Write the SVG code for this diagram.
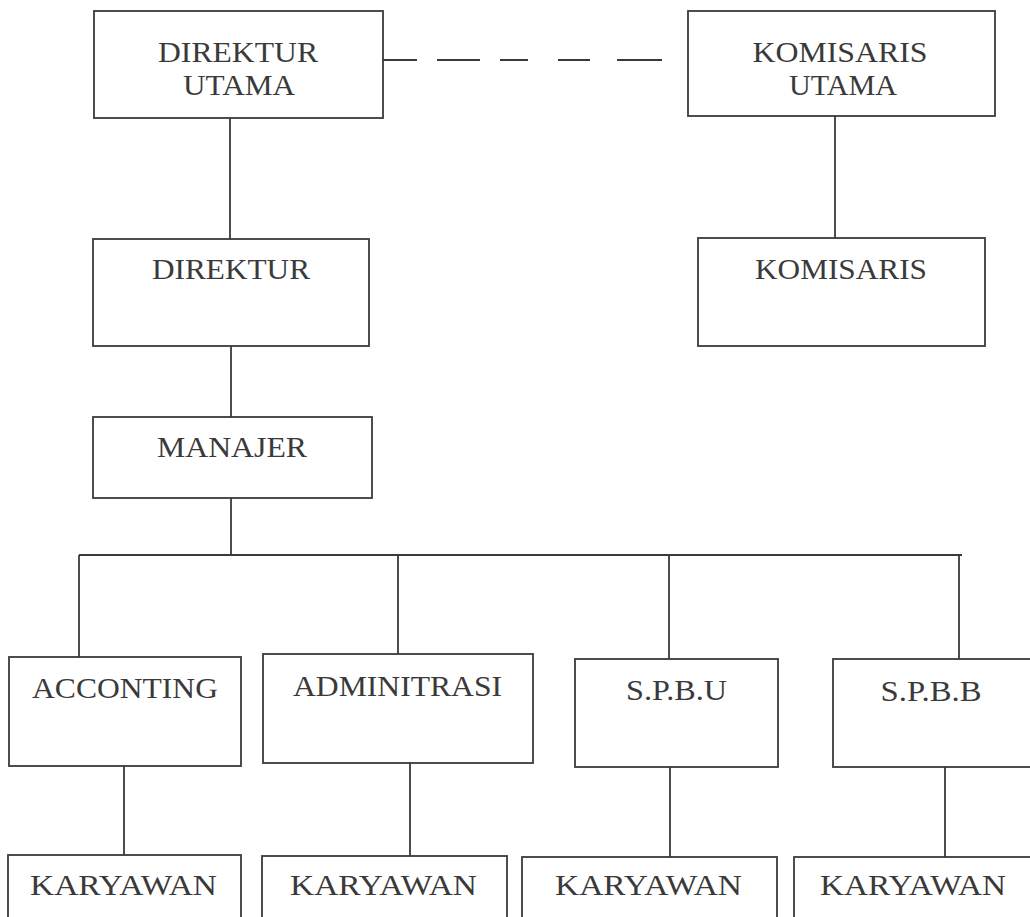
<svg xmlns="http://www.w3.org/2000/svg" width="1030" height="917" viewBox="0 0 1030 917">
<style>
.box{fill:#fff;stroke:#3a3a3a;stroke-width:1.8}
.ln{fill:none;stroke:#3a3a3a;stroke-width:1.8}
text{font-family:"Liberation Serif","Times New Roman",serif;font-size:30px;fill:#3a3a3a;text-anchor:middle}
</style>
<rect width="1030" height="917" fill="#fff"/>
<g id="connectors">
<path class="ln" d="M383 60H417M437 60H480M500 60H528M558 60H590M617 60H662"/>
<path class="ln" d="M230 118V239M231 346V417M231 498V555M79 555H962M79 555V657M398 555V654M669 555V659M959 555V659"/>
<path class="ln" d="M835 116V238"/>
<path class="ln" d="M124 766V855M410 763V856M670 767V857M945 767V857"/>
</g>
<g id="direktur-utama"><rect class="box" x="94" y="11" width="289" height="107"/><text x="238" y="62" textLength="160" lengthAdjust="spacingAndGlyphs">DIREKTUR</text><text x="239" y="95" textLength="112" lengthAdjust="spacingAndGlyphs">UTAMA</text></g>
<g id="komisaris-utama"><rect class="box" x="688" y="11" width="307" height="105"/><text x="840" y="62" textLength="175" lengthAdjust="spacingAndGlyphs">KOMISARIS</text><text x="843" y="95" textLength="108" lengthAdjust="spacingAndGlyphs">UTAMA</text></g>
<g id="direktur"><rect class="box" x="93" y="239" width="276" height="107"/><text x="231" y="279" textLength="158" lengthAdjust="spacingAndGlyphs">DIREKTUR</text></g>
<g id="komisaris"><rect class="box" x="698" y="238" width="287" height="108"/><text x="841" y="279" textLength="172" lengthAdjust="spacingAndGlyphs">KOMISARIS</text></g>
<g id="manajer"><rect class="box" x="93" y="417" width="279" height="81"/><text x="232" y="457" textLength="150" lengthAdjust="spacingAndGlyphs">MANAJER</text></g>
<g id="accounting"><rect class="box" x="9" y="657" width="232" height="109"/><text x="125" y="698" textLength="186" lengthAdjust="spacingAndGlyphs">ACCONTING</text></g>
<g id="adminitrasi"><rect class="box" x="263" y="654" width="270" height="109"/><text x="397.5" y="696" textLength="209" lengthAdjust="spacingAndGlyphs">ADMINITRASI</text></g>
<g id="spbu"><rect class="box" x="575" y="659" width="203" height="108"/><text x="676.5" y="700" textLength="101" lengthAdjust="spacingAndGlyphs">S.P.B.U</text></g>
<g id="spbb"><rect class="box" x="833" y="659" width="205" height="108"/><text x="931" y="701" textLength="101" lengthAdjust="spacingAndGlyphs">S.P.B.B</text></g>
<g id="karyawan-1"><rect class="box" x="8" y="855" width="233" height="80"/><text x="123.5" y="895" textLength="187" lengthAdjust="spacingAndGlyphs">KARYAWAN</text></g>
<g id="karyawan-2"><rect class="box" x="262" y="856" width="245" height="80"/><text x="383.5" y="895" textLength="187" lengthAdjust="spacingAndGlyphs">KARYAWAN</text></g>
<g id="karyawan-3"><rect class="box" x="522" y="857" width="255" height="80"/><text x="648.5" y="895" textLength="187" lengthAdjust="spacingAndGlyphs">KARYAWAN</text></g>
<g id="karyawan-4"><rect class="box" x="794" y="857" width="245" height="80"/><text x="913" y="895" textLength="186" lengthAdjust="spacingAndGlyphs">KARYAWAN</text></g>
</svg>
